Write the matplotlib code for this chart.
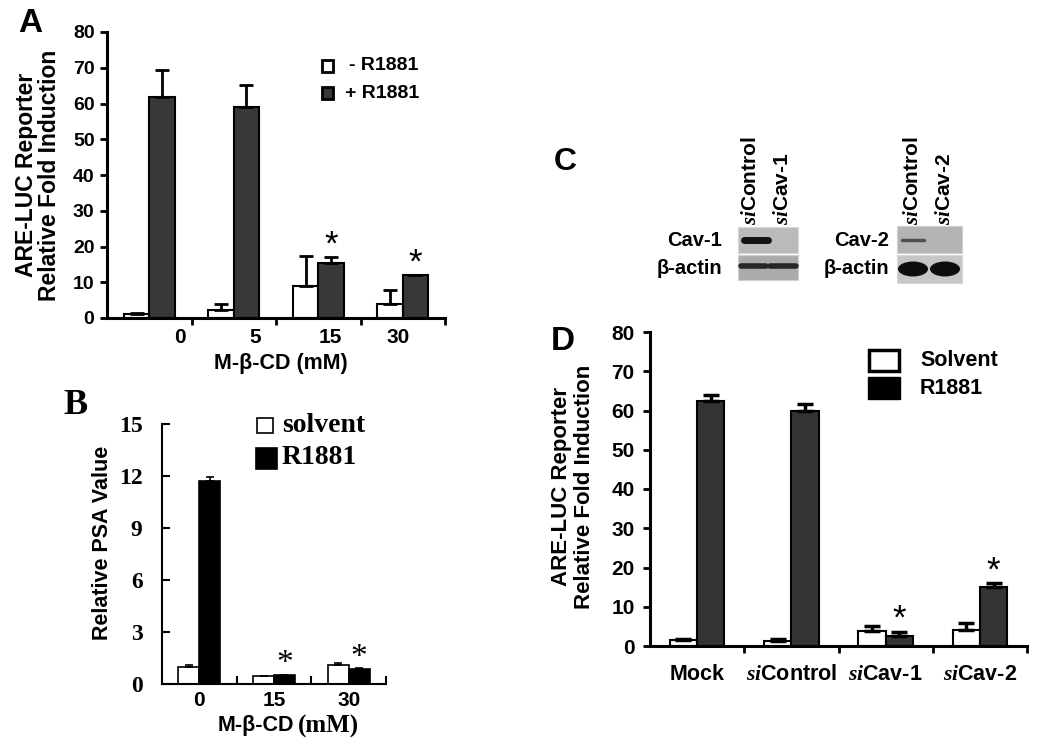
import numpy as np
import matplotlib
matplotlib.use('Agg')
import matplotlib.pyplot as plt
from matplotlib.patches import Rectangle, Ellipse

plt.rcParams['font.family'] = ['Liberation Sans', 'DejaVu Sans']
plt.rcParams['font.weight'] = 'bold'
plt.rcParams['mathtext.fontset'] = 'custom'
plt.rcParams['mathtext.it'] = 'Liberation Serif:italic:bold'
plt.rcParams['mathtext.rm'] = 'Liberation Sans:bold'
plt.rcParams['mathtext.bf'] = 'Liberation Sans:bold'

SERIF = ['Liberation Serif', 'DejaVu Serif']

# Daten Panel A (ARE-LUC, M-beta-CD)
a_doses = ['0', '5', '15', '30']
a_minus = [1.2, 2.2, 9.0, 3.9]
a_minus_err = [0.3, 1.7, 8.3, 3.9]
a_plus = [61.8, 58.9, 15.4, 12.0]
a_plus_err = [7.6, 6.2, 1.6, 0.0]
a_star = [False, False, True, True]

# Daten Panel B (PSA)
b_doses = ['0', '15', '30']
b_solvent = [0.96, 0.46, 1.1]
b_solvent_err = [0.14, 0.03, 0.1]
b_r1881 = [11.7, 0.52, 0.87]
b_r1881_err = [0.26, 0.02, 0.03]
b_star = [False, True, True]

# Daten Panel D (siRNA)
d_groups = ['Mock', r'$\mathit{si}$Control', r'$\mathit{si}$Cav-1', r'$\mathit{si}$Cav-2']
d_solvent = [1.5, 1.35, 3.8, 4.1]
d_solvent_err = [0.2, 0.35, 1.4, 1.7]
d_r1881 = [62.4, 60.0, 2.6, 15.1]
d_r1881_err = [1.6, 1.7, 1.0, 0.9]
d_star = [False, False, True, True]

W, H = 1050.0, 749.0
fig = plt.figure(figsize=(10.5, 7.49), dpi=100)

# Overlay in Pixelkoordinaten fuer Beschriftungen, Legenden, Blots
ov = fig.add_axes([0, 0, 1, 1])
ov.set_xlim(0, W)
ov.set_ylim(H, 0)
ov.axis('off')


def px_axes(x0, y_top, x1, y_bot):
    ax = fig.add_axes([x0 / W, 1 - y_bot / H, (x1 - x0) / W, (y_bot - y_top) / H])
    ax.set_facecolor('none')
    ax.spines['top'].set_visible(False)
    ax.spines['right'].set_visible(False)
    return ax


def pair_bars(ax, left, left_err, right, right_err, width, dark, lw, elw, cap,
              stars, star_fs, star_family=None):
    x = np.arange(len(left))
    z = np.zeros(len(x))
    ekw = dict(ecolor='black', elinewidth=elw, capsize=cap, capthick=elw)
    ax.bar(x - width / 2, left, width, color='white', edgecolor='black',
           linewidth=lw, yerr=[z, left_err], error_kw=ekw)
    ax.bar(x + width / 2, right, width, color=dark, edgecolor='black',
           linewidth=lw, yerr=[z, right_err], error_kw=ekw)
    for i, s in enumerate(stars):
        if s:
            ax.annotate('*', xy=(x[i] + width / 2, right[i] + right_err[i]),
                        xytext=(0, 2), textcoords='offset points',
                        ha='center', va='baseline', fontsize=star_fs,
                        fontweight='normal', family=star_family)
    ax.set_xlim(-0.5, len(x) - 0.5)


# ---------------- Panel A ----------------
axA = px_axes(107, 32, 445, 318)
pair_bars(axA, a_minus, a_minus_err, a_plus, a_plus_err, 0.30, '#383838',
          1.5, 2.0, 5, a_star, 25)
axA.set_ylim(0, 80)
axA.set_yticks(np.arange(0, 81, 10))
axA.set_xticks([0.5, 1.5, 2.5, 3.5])
axA.set_xticklabels([])
axA.set_xticks([0.36, 1.25, 2.14, 2.94], minor=True)
axA.set_xticklabels(a_doses, minor=True)
axA.tick_params(axis='x', which='minor', length=0, pad=7, labelsize=15)
axA.tick_params(axis='x', which='major', length=5, width=2)
axA.tick_params(axis='y', length=5, width=2, pad=4, labelsize=14)
for s in ['left', 'bottom']:
    axA.spines[s].set_linewidth(2.2)

ov.text(30, 23, 'A', fontsize=24, ha='center', va='center')
ov.text(27, 175, 'ARE-LUC Reporter', rotation=90, fontsize=16.5, ha='center', va='center')
ov.text(50, 175, 'Relative Fold Induction', rotation=90, fontsize=16.5, ha='center', va='center')
ov.text(281, 364, 'M-β-CD (mM)', fontsize=15.5, ha='center', va='center')
ov.add_patch(Rectangle((322, 60), 11, 12, fc='white', ec='black', lw=2))
ov.add_patch(Rectangle((322, 87), 11, 12, fc='#383838', ec='black', lw=2))
ov.text(349, 66, '- R1881', fontsize=14, ha='left', va='center')
ov.text(345, 93, '+ R1881', fontsize=14, ha='left', va='center')

# ---------------- Panel B ----------------
axB = px_axes(162, 424, 386, 684)
pair_bars(axB, b_solvent, b_solvent_err, b_r1881, b_r1881_err, 0.28, 'black',
          1.2, 1.2, 3, b_star, 24, SERIF)
axB.set_ylim(0, 15)
axB.set_yticks(np.arange(0, 16, 3))
axB.set_xticks([0.5, 1.5, 2.5])
axB.set_xticklabels([])
axB.set_xticks([0, 1, 2], minor=True)
axB.set_xticklabels(b_doses, minor=True)
axB.tick_params(axis='x', which='minor', length=0, pad=5, labelsize=15)
axB.tick_params(axis='x', which='major', direction='in', length=6, width=1.5)
axB.tick_params(axis='y', direction='in', length=6, width=1.5, pad=14, labelsize=17)
for lab in axB.get_yticklabels():
    lab.set_family(SERIF)
for s in ['left', 'bottom']:
    axB.spines[s].set_linewidth(1.5)

ov.text(76, 405, 'B', fontsize=26, ha='center', va='center', family=SERIF)
ov.text(103, 543, 'Relative PSA Value', rotation=90, fontsize=15.5, ha='center', va='center')
ov.text(294, 726, 'M-β-CD', fontsize=15.5, ha='right', va='center')
ov.text(298, 726, '(mM)', fontsize=18, ha='left', va='center', family=SERIF)
ov.add_patch(Rectangle((257, 418), 16, 15, fc='white', ec='black', lw=1.2))
ov.add_patch(Rectangle((256, 448), 21, 21, fc='black', ec='black', lw=1.2))
ov.text(282, 426, 'solvent', fontsize=20, ha='left', va='center', family=SERIF)
ov.text(282, 458, 'R1881', fontsize=20, ha='left', va='center', family=SERIF)

# ---------------- Panel C (Western Blots) ----------------
ov.text(565, 162, 'C', fontsize=23, ha='center', va='center')
# Blot Cav-1
ov.add_patch(Rectangle((738, 227), 60, 26, fc='#bababa', ec='#d8d8d8', lw=0.8))
ov.plot([744, 768], [239.5, 239.5], color='#141414', lw=5, solid_capstyle='round')
ov.add_patch(Rectangle((738, 255), 60, 25, fc='#ababab', ec='#d0d0d0', lw=0.8))
ov.plot([741, 766], [266, 266], color='#262626', lw=4, solid_capstyle='round')
ov.plot([770, 796], [266, 266], color='#262626', lw=4, solid_capstyle='round')
# Blot Cav-2
ov.add_patch(Rectangle((897, 226), 65, 27, fc='#b4b4b4', ec='#d0d0d0', lw=0.8))
ov.plot([902, 924], [240, 240], color='#505050', lw=2.5, solid_capstyle='round')
ov.add_patch(Rectangle((897, 255), 65, 28, fc='#c6c6c6', ec='#d8d8d8', lw=0.8))
ov.add_patch(Ellipse((913, 269), 30, 15, fc='#0d0d0d', ec='none'))
ov.add_patch(Ellipse((945, 269), 30, 15, fc='#0d0d0d', ec='none'))

ov.text(722, 241, 'Cav-1', fontsize=14.5, ha='right', va='center')
ov.text(722, 268, 'β-actin', fontsize=14.5, ha='right', va='center')
ov.text(889, 241, 'Cav-2', fontsize=14.5, ha='right', va='center')
ov.text(889, 268, 'β-actin', fontsize=14.5, ha='right', va='center')
ov.text(750, 225, r'$\mathit{si}$Control', rotation=90, fontsize=15, ha='center', va='bottom')
ov.text(782, 225, r'$\mathit{si}$Cav-1', rotation=90, fontsize=15, ha='center', va='bottom')
ov.text(913, 225, r'$\mathit{si}$Control', rotation=90, fontsize=15, ha='center', va='bottom')
ov.text(945, 225, r'$\mathit{si}$Cav-2', rotation=90, fontsize=15, ha='center', va='bottom')

# ---------------- Panel D ----------------
axD = px_axes(650, 332, 1027, 646)
pair_bars(axD, d_solvent, d_solvent_err, d_r1881, d_r1881_err, 0.29, '#333333',
          1.5, 2.5, 6, d_star, 25)
axD.set_ylim(0, 80)
axD.set_yticks(np.arange(0, 81, 10))
axD.set_xticks([0.5, 1.5, 2.5, 3.5])
axD.set_xticklabels([])
axD.set_xticks([0, 1, 2, 3], minor=True)
axD.set_xticklabels(d_groups, minor=True)
axD.tick_params(axis='x', which='minor', length=0, pad=13, labelsize=15.5)
axD.tick_params(axis='x', which='major', length=5, width=2)
axD.tick_params(axis='y', length=5, width=2, pad=6, labelsize=15)
for s in ['left', 'bottom']:
    axD.spines[s].set_linewidth(2.2)

ov.text(563, 341, 'D', fontsize=24, ha='center', va='center')
ov.text(561, 487, 'ARE-LUC Reporter', rotation=90, fontsize=16, ha='center', va='center')
ov.text(584, 487, 'Relative Fold Induction', rotation=90, fontsize=16, ha='center', va='center')
ov.add_patch(Rectangle((869, 350), 30, 21, fc='white', ec='black', lw=2.5))
ov.add_patch(Rectangle((868, 377), 32, 22, fc='black', ec='black', lw=1))
ov.text(920, 360, 'Solvent', fontsize=15.5, ha='left', va='center')
ov.text(920, 388, 'R1881', fontsize=15.5, ha='left', va='center')

fig.savefig('out.png', dpi=100)
